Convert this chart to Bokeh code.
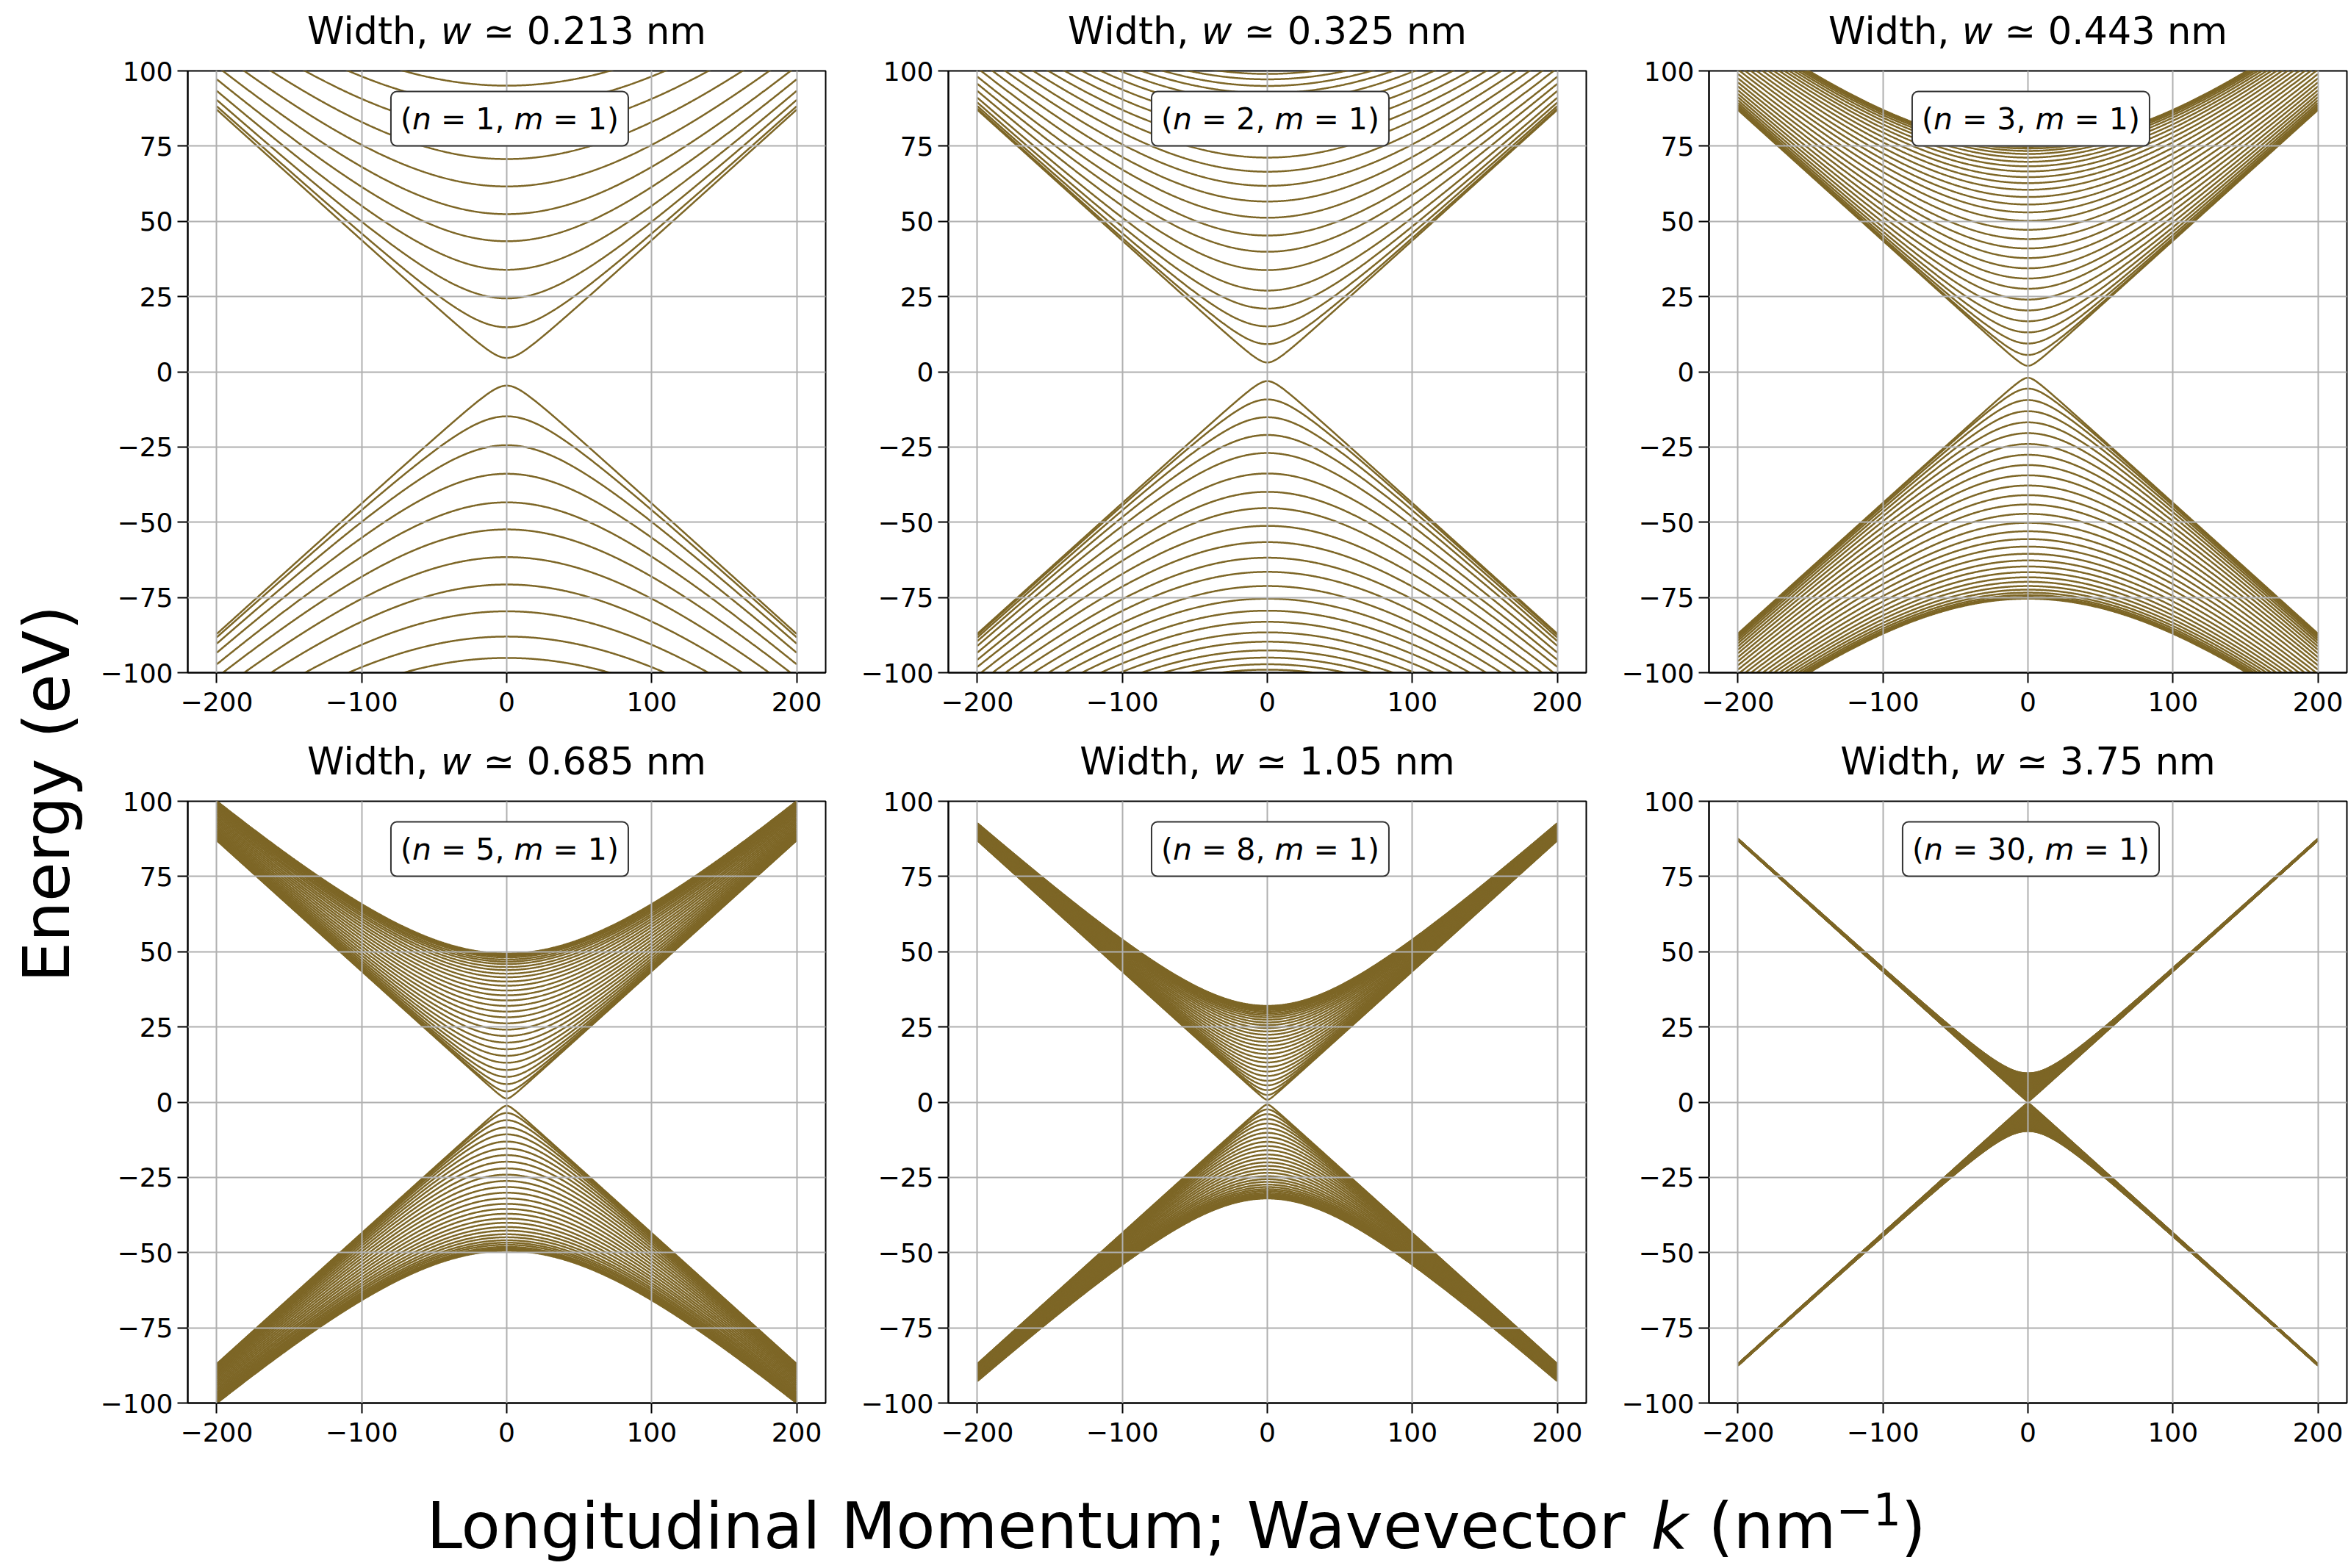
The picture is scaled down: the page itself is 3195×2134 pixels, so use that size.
import numpy as np
from bokeh.plotting import figure
from bokeh.models import Range1d, Label, FixedTicker
from bokeh.layouts import row, column
from bokeh.embed import file_html
from bokeh.resources import INLINE

# ---------------- data ----------------
k_ticks = [-200, -100, 0, 100, 200]
k_tick_labels = ["\u2212200", "\u2212100", "0", "100", "200"]
e_ticks = [-100, -75, -50, -25, 0, 25, 50, 75, 100]
e_tick_labels = ["\u2212100", "\u221275", "\u221250", "\u221225", "0", "25", "50", "75", "100"]
k_min, k_max = -200, 200          # wavevector span of every curve (nm^-1)
v_slope = 0.435                    # eV*nm : lowest band reaches ~87 eV at |k| = 200

widths = ["0.213", "0.325", "0.443", "0.685", "1.05", "3.75"]
n_values = [1, 2, 3, 5, 8, 30]
m_values = [1, 1, 1, 1, 1, 1]

# band-edge energies at k = 0 (eV) for each panel
gaps_n1 = [4.6, 14.8, 24.4, 33.9, 43.4, 52.4, 61.6, 70.7, 79.6, 88.0, 95.1]
gaps_n2 = [3.1, 9.2, 15.1, 21.0, 27.0, 33.8, 39.9, 45.3, 51.2, 56.6, 61.8, 66.5,
           71.2, 75.4, 79.4, 83.1, 86.6, 89.7, 92.6, 95.0, 97.2, 99.0]
gaps_n3 = [2.0, 5.6, 9.4, 13.1, 16.8, 20.4, 24.0, 27.6, 31.0, 34.4, 37.8, 41.0,
           44.1, 47.2, 50.2, 53.0, 55.6, 58.1, 60.5, 62.7, 64.7, 66.6, 68.3, 69.8,
           71.2, 72.4, 73.4, 74.2, 74.8, 75.2, 75.4]
gaps_n5 = [1.2, 3.6, 6.0, 8.4, 10.7, 13.1, 15.4, 17.6, 19.8, 22.0, 24.1, 26.2,
           28.2, 30.1, 32.0, 33.8, 35.5, 37.1, 38.7, 40.1, 41.5, 42.7, 43.9, 44.9,
           45.9, 46.7, 47.4, 48.1, 48.6, 49.0, 49.2, 49.4]
gaps_n8 = [0.8, 2.4, 4.0, 5.6, 7.1, 8.7, 10.2, 11.7, 13.2, 14.6, 16.0, 17.4,
           18.7, 20.0, 21.2, 22.4, 23.5, 24.6, 25.6, 26.5, 27.4, 28.2, 28.9, 29.5,
           30.1, 30.6, 31.0, 31.4, 31.7, 31.9, 32.0]
gaps_n30 = [0.25, 0.72, 1.2, 1.67, 2.14, 2.61, 3.07, 3.52, 3.96, 4.39, 4.81, 5.22,
            5.62, 6.0, 6.37, 6.72, 7.05, 7.37, 7.67, 7.95, 8.21, 8.45, 8.66, 8.86,
            9.03, 9.18, 9.31, 9.42, 9.5, 9.56, 9.6]
panel_gaps = [gaps_n1, gaps_n2, gaps_n3, gaps_n5, gaps_n8, gaps_n30]

y_label = "Energy (eV)"
x_label_parts = [("Longitudinal Momentum; Wavevector ", "normal", 0),
                 ("k", "italic", 0), (" (nm", "normal", 0),
                 ("\u22121", "normal", 1), (")", "normal", 0)]

# ---------------- styling ----------------
FONT = "DejaVu Sans"
LINE = "#7d6626"
GRID = "#b0b0b0"

CW = {' ': 0.318, '(': 0.390, ')': 0.390, ',': 0.318, '.': 0.318, ';': 0.337,
      '=': 0.838, '\u2243': 0.838, '\u2212': 0.838, 'W': 0.989, 'i': 0.278,
      'd': 0.635, 't': 0.392, 'h': 0.634, 'n': 0.634, 'm': 0.974, 'w': 0.818,
      'k': 0.579, 'L': 0.557, 'o': 0.612, 'g': 0.635, 'u': 0.634, 'a': 0.613,
      'l': 0.278, 'M': 0.863, 'e': 0.615, 'v': 0.592, 'c': 0.550, 'r': 0.411}
for ch in "0123456789":
    CW[ch] = 0.636


def text_w(s, size):
    return sum(CW.get(c, 0.6) for c in s) * size


def add_segments(p, x, y, segs, size):
    """segs: list of (text, style); the whole run is centred on x, middle-aligned on y."""
    total = sum(text_w(t, size) for t, _ in segs)
    off = -total / 2.0
    for t, st in segs:
        lead = len(t) - len(t.lstrip(' '))
        txt = t.strip(' ')
        if txt:
            p.add_layout(Label(x=x, y=y, x_offset=off + text_w(' ' * lead, size),
                               text=txt, text_font=FONT, text_font_size=f"{size}px",
                               text_font_style=st, text_color="black",
                               text_align="left", text_baseline="middle"))
        off += text_w(t, size)


def blank_fig(w, h, xr=None, yr=None, left=0, right=0):
    f = figure(width=w, height=h,
               x_range=xr if xr is not None else Range1d(0, w),
               y_range=yr if yr is not None else Range1d(0, h),
               x_axis_type=None, y_axis_type=None, output_backend="svg",
               toolbar_location=None, min_border=0,
               min_border_left=left, min_border_right=right)
    f.outline_line_color = None
    f.background_fill_color = "white"
    f.border_fill_color = "white"
    return f


k_grid = np.linspace(k_min, k_max, 801)
TOP = 22
TITLE_H = 96 - TOP


def make_panel(idx):
    last = (idx % 3 == 2)
    W = 1010 if last else 1035
    RB = 2 if last else 27
    p = figure(width=W, height=994 - TITLE_H,
               x_range=Range1d(-220, 220), y_range=Range1d(-100, 100),
               output_backend="svg", toolbar_location=None,
               min_border_left=140, min_border_right=RB,
               min_border_top=TOP, min_border_bottom=79)
    p.background_fill_color = "white"
    p.border_fill_color = "white"
    p.outline_line_color = "black"
    p.outline_line_width = 2

    xs, ys = [], []
    for d in panel_gaps[idx]:
        e = np.sqrt((v_slope * k_grid) ** 2 + d ** 2)
        xs += [k_grid, k_grid]
        ys += [e, -e]
    p.multi_line(xs, ys, line_color=LINE, line_width=2.5)

    p.xaxis.ticker = FixedTicker(ticks=k_ticks)
    p.yaxis.ticker = FixedTicker(ticks=e_ticks)
    p.xaxis.major_label_overrides = {t: s for t, s in zip(k_ticks, k_tick_labels)}
    p.yaxis.major_label_overrides = {t: s for t, s in zip(e_ticks, e_tick_labels)}
    for ax in (p.xaxis[0], p.yaxis[0]):
        ax.major_label_text_font = FONT
        ax.major_label_text_font_size = "36px"
        ax.major_label_text_color = "black"
        ax.axis_line_color = "black"
        ax.axis_line_width = 2
        ax.major_tick_line_color = "black"
        ax.major_tick_line_width = 2
        ax.major_tick_out = 14
        ax.major_tick_in = 0
        ax.minor_tick_line_color = None
    p.xaxis.major_label_standoff = 12
    p.yaxis.major_label_standoff = 6

    p.xgrid.ticker = FixedTicker(ticks=k_ticks)
    p.ygrid.ticker = FixedTicker(ticks=e_ticks)
    p.grid.grid_line_color = GRID
    p.grid.grid_line_width = 2
    p.grid.level = "guide"

    # boxed annotation "(n = 1, m = 1)"
    nm_segs = [("(", "normal"), ("n", "italic"),
               (f" = {n_values[idx]}, ", "normal"), ("m", "italic"),
               (f" = {m_values[idx]})", "normal")]
    full = "".join(t for t, _ in nm_segs)
    p.add_layout(Label(x=2, y=84.1, text=full, text_font=FONT, text_font_size="41px",
                       text_color="white", text_align="center", text_baseline="middle",
                       background_fill_color="white", background_fill_alpha=1.0,
                       border_line_color="#333333", border_line_width=2,
                       padding=13, border_radius=8))
    add_segments(p, 2, 84.1, nm_segs, 41)

    # title figure above the panel (frame aligned with the panel frame)
    t = blank_fig(W, TITLE_H, xr=Range1d(-220, 220), yr=Range1d(0, TITLE_H),
                  left=140, right=RB)
    add_segments(t, 0, 32,
                 [("Width, ", "normal"), ("w", "italic"),
                  (" \u2243 " + widths[idx] + " nm", "normal")], 51)
    return column(t, p)


panels = [make_panel(i) for i in range(6)]

ylab = blank_fig(115, 1988)
ylab.add_layout(Label(x=63, y=1988 - 1080, text=y_label, angle=np.pi / 2,
                      text_font=FONT, text_font_size="87px", text_color="black",
                      text_align="center", text_baseline="middle"))

xlab = blank_fig(3195, 146)
pos = 580.0
for t, st, sup in x_label_parts:
    size = 60 if sup else 87
    lead = len(t) - len(t.lstrip(' '))
    xlab.add_layout(Label(x=pos + text_w(' ' * lead, size), y=81 if sup else 58,
                          text=t.strip(' '), text_font=FONT, text_font_size=f"{size}px",
                          text_font_style=st, text_color="black",
                          text_align="left", text_baseline="middle"))
    pos += text_w(t, size)

layout = column(row(ylab, column(row(*panels[:3]), row(*panels[3:]))), xlab)

open("out.html", "w").write(file_html(layout, INLINE))
